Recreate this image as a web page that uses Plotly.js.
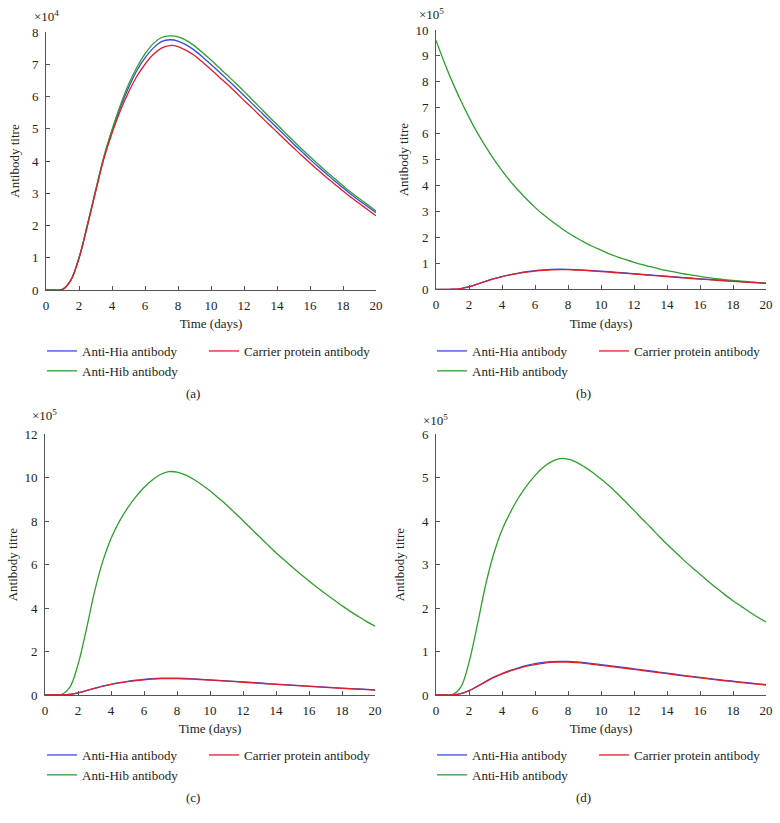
<!DOCTYPE html>
<html><head><meta charset="utf-8">
<script src="https://cdn.plot.ly/plotly-3.0.1.min.js"></script>
<style>html,body{margin:0;padding:0;background:#fff}</style>
</head><body><div id="chart" style="width:780px;height:823px"></div>
<script>
// time grid (days)
const days = [0,0.5,1,1.5,2,2.5,3,3.5,4,4.5,5,5.5,6,6.5,7,7.5,8,8.5,9,9.5,10,10.5,11,11.5,12,12.5,13,13.5,14,14.5,15,15.5,16,16.5,17,17.5,18,18.5,19,19.5,20];
// panel (a), values in units of 10^4
const hiaA     = [0,0,0.02,0.3,1.0,2.0,3.07,4.1,4.93,5.65,6.27,6.8,7.2,7.5,7.7,7.76,7.72,7.6,7.43,7.22,6.99,6.76,6.52,6.28,6.03,5.78,5.53,5.28,5.03,4.78,4.53,4.29,4.05,3.82,3.6,3.38,3.17,2.96,2.77,2.58,2.40];
const hibA     = [0,0,0.02,0.3,1.0,2.0,3.07,4.12,4.97,5.72,6.37,6.9,7.32,7.64,7.83,7.88,7.85,7.74,7.57,7.36,7.13,6.89,6.65,6.41,6.16,5.9,5.64,5.38,5.13,4.87,4.62,4.37,4.13,3.9,3.67,3.45,3.23,3.02,2.83,2.64,2.45];
const carrierA = [0,0,0.02,0.3,0.98,1.97,3.03,4.05,4.86,5.55,6.13,6.62,7.0,7.3,7.5,7.58,7.55,7.43,7.27,7.06,6.84,6.6,6.37,6.13,5.88,5.64,5.39,5.14,4.9,4.65,4.41,4.17,3.94,3.71,3.49,3.28,3.07,2.87,2.68,2.49,2.3];
// panels (b)-(d), values in units of 10^5
const hiaBCD     = [0,0,0.002,0.03,0.1,0.2,0.307,0.41,0.493,0.565,0.627,0.68,0.72,0.75,0.77,0.776,0.772,0.76,0.743,0.722,0.699,0.676,0.652,0.628,0.603,0.578,0.553,0.528,0.503,0.478,0.453,0.429,0.405,0.382,0.36,0.338,0.317,0.296,0.277,0.258,0.24];
const carrierBCD = [0,0,0.002,0.03,0.098,0.197,0.303,0.405,0.486,0.555,0.613,0.662,0.7,0.73,0.75,0.758,0.755,0.743,0.727,0.706,0.684,0.66,0.637,0.613,0.588,0.564,0.539,0.514,0.49,0.465,0.441,0.417,0.394,0.371,0.349,0.328,0.307,0.287,0.268,0.249,0.23];
const hibB = [9.6,8.76,7.98,7.28,6.63,6.04,5.51,5.02,4.58,4.17,3.81,3.47,3.16,2.88,2.63,2.4,2.18,1.99,1.81,1.65,1.51,1.37,1.25,1.14,1.04,0.95,0.87,0.79,0.72,0.66,0.6,0.55,0.5,0.45,0.41,0.37,0.34,0.31,0.29,0.26,0.24];
const hibC = [0,0,0.02,0.35,1.4,3.0,4.75,6.15,7.2,7.98,8.6,9.12,9.55,9.9,10.15,10.28,10.26,10.13,9.93,9.68,9.4,9.08,8.75,8.39,8.02,7.65,7.28,6.91,6.55,6.21,5.88,5.56,5.25,4.95,4.66,4.38,4.11,3.85,3.61,3.38,3.17];
const hibD = [0,0,0.01,0.18,0.75,1.6,2.52,3.25,3.8,4.2,4.54,4.82,5.05,5.24,5.37,5.44,5.43,5.36,5.25,5.12,4.97,4.81,4.63,4.44,4.25,4.05,3.86,3.66,3.47,3.29,3.11,2.94,2.78,2.62,2.46,2.31,2.17,2.04,1.91,1.79,1.68];

const seriesNames = ['Anti-Hia antibody','Anti-Hib antibody','Carrier protein antibody'];
const panelLabels = ['(a)','(b)','(c)','(d)'];
const exponents = ['4','5','5','5'];
const yRanges = [[0,8],[0,10],[0,12],[0,6]];
const yDticks = [1,1,2,1];

const FONT = 'Liberation Serif, Times New Roman, serif';
const TXT = '#222';
const colors = ['rgb(55,75,225)','rgb(45,160,45)','rgb(225,30,40)'];

const panels = [
  {hia: hiaA, hib: hibA, car: carrierA},
  {hia: hiaBCD, hib: hibB, car: carrierBCD},
  {hia: hiaBCD, hib: hibC, car: carrierBCD},
  {hia: hiaBCD, hib: hibD, car: carrierBCD}
];

const W = 780, H = 823;
const px = v => v / W;
const py = v => 1 - v / H;

// plot boxes in pixels [left, right, top, bottom]
const boxes = [[46,376,32,290],[436,766,30,289.3],[45,375,434.3,695],[436,766,434.3,695]];
// legend anchors [col1 x, col2 x, top y]
const legPos = [[42,204,336],[432,594,336],[42,204,740],[432,594,740]];
const expPos = [[32,16],[417,14],[30,415],[421,420]];
const labPos = [[193,393],[583,393],[193,797],[583,797]];
const yTitleStandoff = [9,3,3,14];

const data = [];
const layout = {
  width: W, height: H,
  margin: {l:0, r:0, t:0, b:0},
  paper_bgcolor: '#fff', plot_bgcolor: '#fff',
  font: {family: FONT, size: 13, color: TXT},
  showlegend: true,
  annotations: []
};

panels.forEach((p, i) => {
  const n = i + 1;
  const xk = n === 1 ? 'x' : 'x' + n;
  const yk = n === 1 ? 'y' : 'y' + n;
  const lg1 = 'legend' + (2*i === 0 ? '' : (2*i + 1));
  const lg2 = 'legend' + (2*i + 2);
  const vals = [p.hia, p.hib, p.car];
  vals.forEach((v, k) => {
    data.push({
      x: days, y: v, type: 'scatter', mode: 'lines',
      name: seriesNames[k], xaxis: xk, yaxis: yk,
      legend: k === 2 ? lg2 : lg1,
      line: {color: colors[k], width: 1.3, shape: 'spline', smoothing: 1},
      hoverinfo: 'skip'
    });
  });
  const b = boxes[i];
  const axCommon = {
    showline: true, linecolor: '#555', linewidth: 1,
    ticks: 'inside', ticklen: 4, tickcolor: '#555', tickwidth: 1,
    showgrid: false, zeroline: false, fixedrange: true,
    tickfont: {family: FONT, size: 13, color: TXT}
  };
  layout['xaxis' + (n === 1 ? '' : n)] = Object.assign({}, axCommon, {
    domain: [px(b[0]), px(b[1])], range: [0, 20], dtick: 2, tick0: 0,
    anchor: yk, ticklabelstandoff: 3,
    title: {text: 'Time (days)', font: {family: FONT, size: 13, color: TXT}, standoff: 7}
  });
  layout['yaxis' + (n === 1 ? '' : n)] = Object.assign({}, axCommon, {
    domain: [py(b[3]), py(b[2])], range: yRanges[i], dtick: yDticks[i], tick0: 0,
    anchor: xk, ticklabelstandoff: 4,
    title: {text: 'Antibody titre', font: {family: FONT, size: 13, color: TXT}, standoff: yTitleStandoff[i]}
  });
  const lp = legPos[i];
  const legCommon = {
    orientation: 'v', xanchor: 'left', yanchor: 'top', y: py(lp[2]),
    bgcolor: 'rgba(0,0,0,0)', borderwidth: 0, tracegroupgap: 0,
    font: {family: FONT, size: 13, color: TXT}
  };
  layout[lg1] = Object.assign({}, legCommon, {x: px(lp[0])});
  layout[lg2] = Object.assign({}, legCommon, {x: px(lp[1])});
  layout.annotations.push({
    xref: 'paper', yref: 'paper', x: px(expPos[i][0]), y: py(expPos[i][1]),
    xanchor: 'left', yanchor: 'middle', showarrow: false,
    text: '×10<sup>' + exponents[i] + '</sup>', font: {family: FONT, size: 13, color: TXT}
  });
  layout.annotations.push({
    xref: 'paper', yref: 'paper', x: px(labPos[i][0]), y: py(labPos[i][1]),
    xanchor: 'center', yanchor: 'middle', showarrow: false,
    text: panelLabels[i], font: {family: FONT, size: 13, color: TXT}
  });
});

Plotly.newPlot('chart', data, layout, {staticPlot: true, displayModeBar: false});
</script>
</body></html>
